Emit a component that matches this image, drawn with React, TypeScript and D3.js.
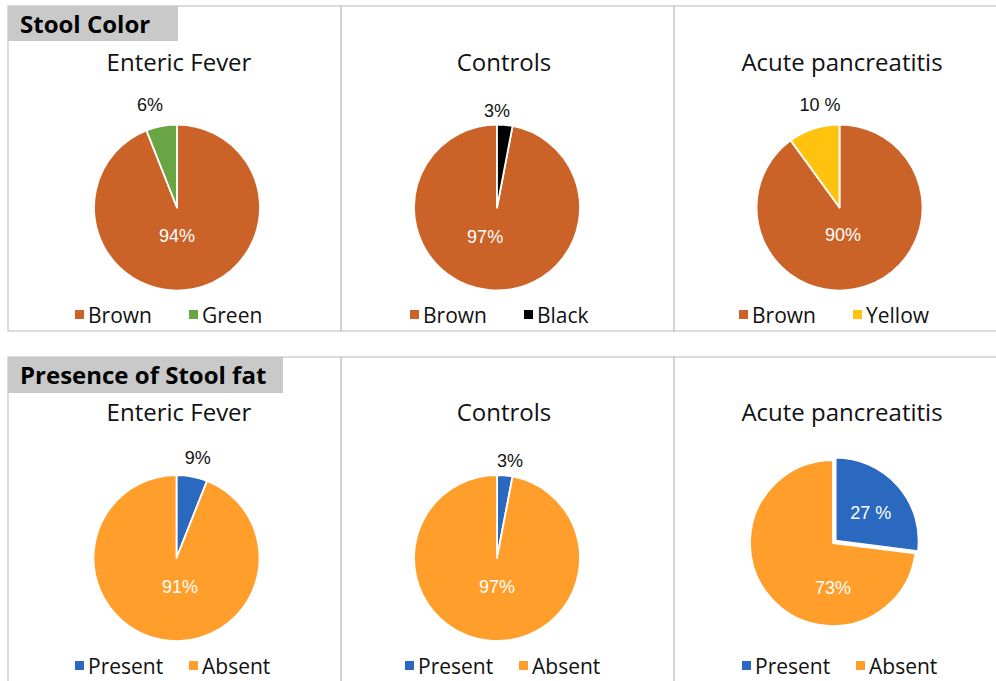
import React from "react";
import * as d3 from "d3";

// ---------- data ----------
const chartTitles = ["Enteric Fever", "Controls", "Acute pancreatitis"];
const rowHeaders = ["Stool Color", "Presence of Stool fat"];

const colorEntericLabels = ["Brown", "Green"];
const colorEntericValues = [94, 6];
const colorEntericText = ["94%", "6%"];

const colorControlsLabels = ["Brown", "Black"];
const colorControlsValues = [97, 3];
const colorControlsText = ["97%", "3%"];

const colorAcuteLabels = ["Brown", "Yellow"];
const colorAcuteValues = [90, 10];
const colorAcuteText = ["90%", "10 %"];

const fatLabels = ["Present", "Absent"];
// slice as drawn in the picture (~22°), labelled 9%
const fatEntericValues = [6, 94];
const fatEntericText = ["9%", "91%"];
const fatControlsValues = [3, 97];
const fatControlsText = ["3%", "97%"];
const fatAcuteValues = [27, 73];
const fatAcuteText = ["27 %", "73%"];

const sliceColors: Record<string, string> = {
  Brown: "#CB6328",
  Green: "#6AA544",
  Black: "#000000",
  Yellow: "#FFC20E",
  Present: "#2A69BF",
  Absent: "#FF9E2A",
};

// ---------- layout ----------
const W = 996;
const H = 681;
const R = 83;
const panelX = [8, 341, 674, 1010];
const rowTop = [6, 357];
const rowBottom = [331, 700];
const headerBox = [
  { w: 170, h: 35 },
  { w: 275, h: 36 },
];
const titleX = [179, 504, 842];
const titleY = [71, 421];
const legendY = [314.5, 665.5];
const legendX = [
  [75, 410, 739],
  [75, 405, 742],
];
const legendSlot = 114;

type Chart = {
  labels: string[];
  values: number[];
  text: string[];
  cx: number;
  cy: number;
  startSlice: number; // slice that begins at 12 o'clock
  labelPolar: [number, number][]; // [deg clockwise from top, radius px]
  explode?: number[];
};

const rows: Chart[][] = [
  [
    { labels: colorEntericLabels, values: colorEntericValues, text: colorEntericText, cx: 177, cy: 207.5, startSlice: 0, labelPolar: [[180, 28], [-14.7, 106]] },
    { labels: colorControlsLabels, values: colorControlsValues, text: colorControlsText, cx: 497, cy: 207.5, startSlice: 1, labelPolar: [[201.8, 32], [0, 97]] },
    { labels: colorAcuteLabels, values: colorAcuteValues, text: colorAcuteText, cx: 839.5, cy: 207.5, startSlice: 0, labelPolar: [[172.7, 28], [-10.8, 104]] },
  ],
  [
    { labels: fatLabels, values: fatEntericValues, text: fatEntericText, cx: 176.5, cy: 558, startSlice: 0, labelPolar: [[12.1, 102], [173, 29]] },
    { labels: fatLabels, values: fatControlsValues, text: fatControlsText, cx: 497, cy: 558, startSlice: 0, labelPolar: [[7.6, 98], [180, 29]] },
    { labels: fatLabels, values: fatAcuteValues, text: fatAcuteText, cx: 833, cy: 543, startSlice: 0, labelPolar: [[51.7, 48], [180, 45]], explode: [3.5, 0] },
  ],
];

const titleFont = "'Open Sans', 'Noto Sans', sans-serif";
const labelFont = "'Liberation Sans', Arial, sans-serif";

function PieChart({ c }: { c: Chart }) {
  const total = d3.sum(c.values);
  const before = d3.sum(c.values.slice(0, c.startSlice));
  const start = (-before / total) * 2 * Math.PI;
  const pie = d3
    .pie<number>()
    .sort(null)
    .value((d) => d)
    .startAngle(start)
    .endAngle(start + 2 * Math.PI);
  const arcs = pie(c.values);
  const arc = d3.arc<d3.PieArcDatum<number>>().innerRadius(0).outerRadius(R);
  return (
    <g transform={`translate(${c.cx},${c.cy})`}>
      {arcs.map((a, i) => {
        const mid = (a.startAngle + a.endAngle) / 2;
        const e = c.explode ? c.explode[i] : 0;
        const dx = Math.sin(mid) * e;
        const dy = -Math.cos(mid) * e;
        return (
          <path
            key={i}
            d={arc(a) || ""}
            transform={`translate(${dx},${dy})`}
            fill={sliceColors[c.labels[i]]}
            stroke="#ffffff"
            strokeWidth={1.8}
            strokeLinejoin="round"
          />
        );
      })}
      {arcs.map((a, i) => {
        const [deg, r] = c.labelPolar[i];
        const ang = (deg * Math.PI) / 180;
        const inside = r < R;
        return (
          <text
            key={"t" + i}
            x={Math.sin(ang) * r}
            y={-Math.cos(ang) * r}
            textAnchor="middle"
            dominantBaseline="central"
            fontFamily={labelFont}
            fontSize={18}
            fill={inside ? "#ffffff" : "#111111"}
          >
            {c.text[i]}
          </text>
        );
      })}
    </g>
  );
}

export default function App() {
  const border = "#d0d0d0";
  return (
    <svg
      width={W}
      height={H}
      viewBox={`0 0 ${W} ${H}`}
      style={{ position: "absolute", left: 0, top: 0, background: "#ffffff" }}
    >
      <rect x={0} y={0} width={W} height={H} fill="#ffffff" />
      {rows.map((row, ri) => (
        <g key={ri}>
          {[0, 1, 2].map((pi) => (
            <rect
              key={pi}
              x={panelX[pi]}
              y={rowTop[ri]}
              width={panelX[pi + 1] - panelX[pi]}
              height={rowBottom[ri] - rowTop[ri]}
              fill="none"
              stroke={border}
              strokeWidth={1.5}
            />
          ))}
          <rect
            x={panelX[0]}
            y={rowTop[ri]}
            width={headerBox[ri].w}
            height={headerBox[ri].h}
            fill="#c9c9c9"
          />
          <text
            x={panelX[0] + 12}
            y={rowTop[ri] + 27}
            fontFamily={titleFont}
            fontWeight={700}
            fontSize={24}
            fill="#000000"
          >
            {rowHeaders[ri]}
          </text>
          {row.map((c, ci) => (
            <g key={ci}>
              <text
                x={titleX[ci]}
                y={titleY[ri]}
                textAnchor="middle"
                fontFamily={titleFont}
                fontSize={24}
                fill="#111111"
              >
                {chartTitles[ci]}
              </text>
              <PieChart c={c} />
              {c.labels.map((lab, li) => {
                const x0 = legendX[ri][ci] + li * legendSlot;
                return (
                  <g key={lab}>
                    <rect
                      x={x0}
                      y={legendY[ri] - 4.5}
                      width={9}
                      height={9}
                      fill={sliceColors[lab]}
                    />
                    <text
                      x={x0 + 13}
                      y={legendY[ri]}
                      dominantBaseline="central"
                      fontFamily={titleFont}
                      fontSize={21}
                      fill="#111111"
                    >
                      {lab}
                    </text>
                  </g>
                );
              })}
            </g>
          ))}
        </g>
      ))}
    </svg>
  );
}
